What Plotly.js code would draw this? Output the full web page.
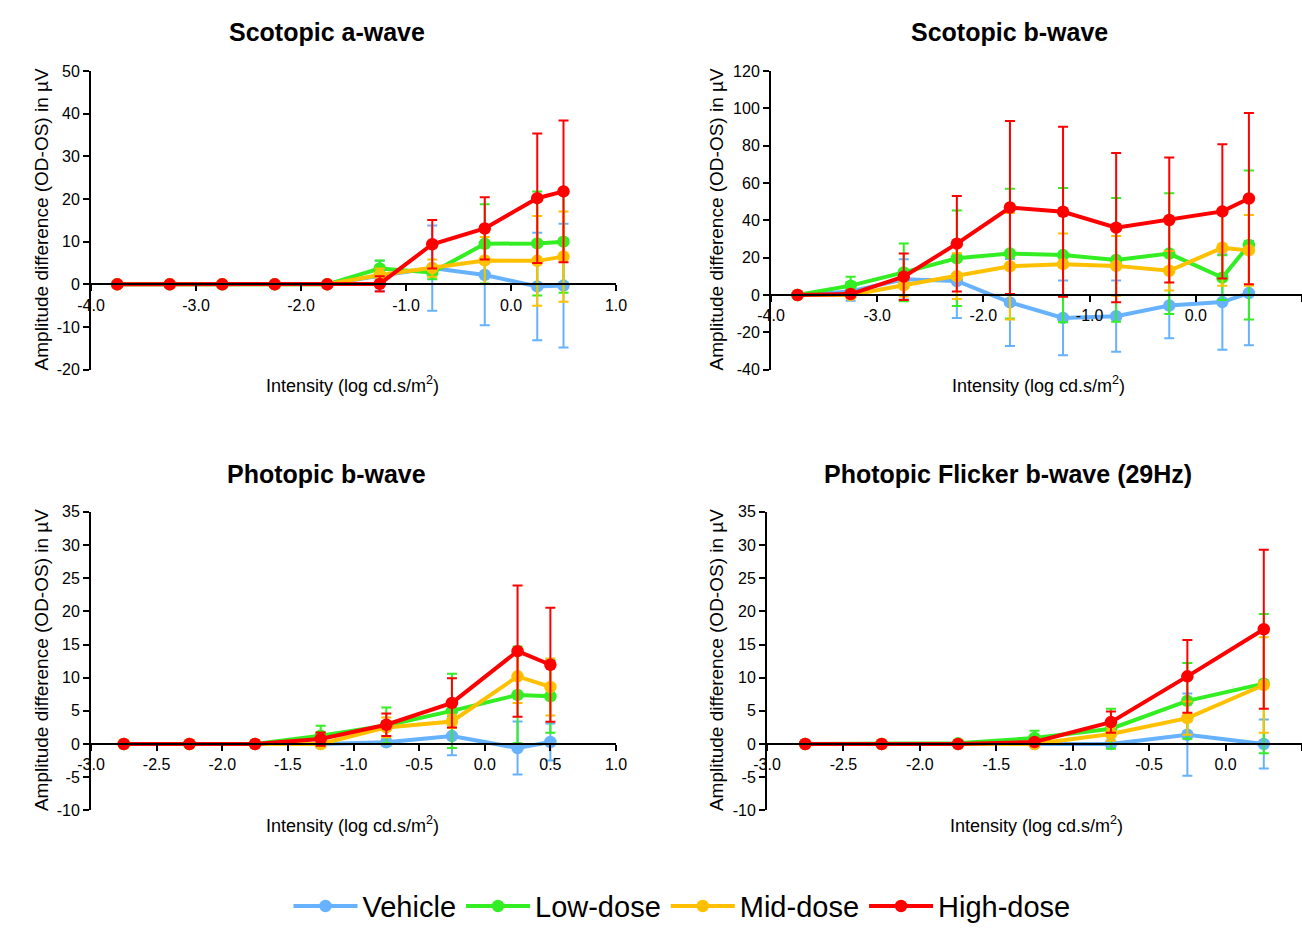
<!DOCTYPE html>
<html><head><meta charset="utf-8">
<script src="https://cdn.plot.ly/plotly-3.0.1.min.js"></script>
<style>html,body{margin:0;padding:0;overflow:hidden;background:#fff;width:1302px;height:932px}#chart{position:fixed;left:0;top:0;width:1302px;height:932px}</style>
</head><body><div id="chart"></div><script>
// ---------------- data ----------------
var seriesNames = ['Vehicle', 'Low-dose', 'Mid-dose', 'High-dose'];
var seriesColors = ['#66B2FF', '#33EE22', '#FFC000', '#FF0000'];

var panelTitles = ['Scotopic a-wave', 'Scotopic b-wave', 'Photopic b-wave', 'Photopic Flicker b-wave (29Hz)'];
var xTitle = 'Intensity (log cd.s/m<sup>2</sup>)';
var yTitle = 'Amplitude difference (OD-OS) in µV';

// Scotopic intensities
var xScot = [-3.75, -3.25, -2.75, -2.25, -1.75, -1.25, -0.75, -0.25, 0.25, 0.5];
// Scotopic a-wave
var aVehicle = [0, 0, 0, 0, 0, 2.0, 3.8, 2.2, -0.5, -0.3];
var aVehicleErr = [0, 0, 0, 0, 0, 3.5, 10, 11.8, 12.6, 14.5];
var aLow = [0, 0, 0, 0, 0, 3.7, 2.8, 9.5, 9.6, 10.0];
var aLowErr = [0, 0, 0, 0, 0, 1.9, 1.6, 9.3, 12.2, 12];
var aMid = [0, 0, 0, 0, 0, 2.2, 3.8, 5.6, 5.5, 6.5];
var aMidErr = [0, 0, 0, 0, 0, 1.5, 2, 5.5, 10.5, 10.6];
var aHigh = [0, 0, 0, 0, 0, 0.1, 9.4, 13.1, 20.2, 21.8];
var aHighErr = [0, 0, 0, 0, 0, 1.8, 5.7, 7.3, 15.2, 16.6];
// Scotopic b-wave
var bVehicle = [0, 1.9, 8.4, 7.5, -4.0, -12.3, -11.4, -5.7, -3.8, 1.0];
var bVehicleErr = [0, 5, 10.8, 19.8, 23.3, 20, 19.1, 17.5, 25.6, 27.9];
var bLow = [0, 5.0, 12.1, 19.7, 22.2, 21.4, 18.8, 22.2, 9.3, 26.8];
var bLowErr = [0, 4.8, 15.5, 25.6, 34.8, 36, 33.2, 32.4, 12, 40];
var bMid = [0, 0, 5.2, 10.1, 15.4, 16.5, 15.6, 13.0, 25.3, 23.9];
var bMidErr = [0, 1, 6, 12.3, 28.5, 16.5, 16, 10.6, 20.4, 19];
var bHigh = [0, 0.5, 9.8, 27.5, 46.9, 44.6, 36.1, 40.2, 44.8, 51.7];
var bHighErr = [0, 1, 12.5, 25.6, 46.4, 45.6, 40, 33.5, 36, 45.9];

// Photopic intensities
var xPhot = [-2.75, -2.25, -1.75, -1.25, -0.75, -0.25, 0.25, 0.5];
var pVehicle = [0, 0, 0, 0, 0.25, 1.2, -0.6, 0.3];
var pVehicleErr = [0, 0, 0, 0, 0.5, 2.9, 4.0, 2.8];
var pLow = [0, 0, 0, 1.25, 2.8, 5.0, 7.4, 7.2];
var pLowErr = [0, 0, 0, 1.5, 2.7, 5.6, 7.3, 5.5];
var pMid = [0, 0, 0, 0, 2.5, 3.4, 10.2, 8.6];
var pMidErr = [0, 0, 0, 0.5, 1.5, 1, 4, 4.3];
var pHigh = [0, 0, 0, 0.75, 2.9, 6.2, 14.0, 11.95];
var pHighErr = [0, 0, 0, 1, 1.7, 3.7, 9.9, 8.6];

// Photopic flicker intensities
var xFlick = [-2.75, -2.25, -1.75, -1.25, -0.75, -0.25, 0.25];
var fVehicle = [0, 0, 0, 0, 0, 1.4, 0];
var fVehicleErr = [0, 0, 0, 0, 0.3, 6.2, 3.7];
var fLow = [0, 0, 0.1, 0.9, 2.3, 6.5, 9.1];
var fLowErr = [0, 0, 0, 1.1, 3, 5.7, 10.5];
var fMid = [0, 0, 0, 0, 1.5, 3.9, 8.9];
var fMidErr = [0, 0, 0, 0.3, 1, 2.5, 7.2];
var fHigh = [0, 0, 0, 0.3, 3.3, 10.2, 17.3];
var fHighErr = [0, 0, 0, 0.3, 1.6, 5.5, 12];

// Tick labels
var scotXTicks = [-4, -3, -2, -1, 0, 1];
var scotXLabels = ['-4.0', '-3.0', '-2.0', '-1.0', '0.0', '1.0'];
var photXTicks = [-3, -2.5, -2, -1.5, -1, -0.5, 0, 0.5, 1];
var photXLabels = ['-3.0', '-2.5', '-2.0', '-1.5', '-1.0', '-0.5', '0.0', '0.5', '1.0'];
var flickXTicks = [-3, -2.5, -2, -1.5, -1, -0.5, 0, 0.5];
var flickXLabels = ['-3.0', '-2.5', '-2.0', '-1.5', '-1.0', '-0.5', '0.0', '0.5'];
var aYTicks = [-20, -10, 0, 10, 20, 30, 40, 50];
var aYLabels = ['-20', '-10', '0', '10', '20', '30', '40', '50'];
var bYTicks = [-40, -20, 0, 20, 40, 60, 80, 100, 120];
var bYLabels = ['-40', '-20', '0', '20', '40', '60', '80', '100', '120'];
var pYTicks = [-10, -5, 0, 5, 10, 15, 20, 25, 30, 35];
var pYLabels = ['-10', '-5', '0', '5', '10', '15', '20', '25', '30', '35'];

// ---------------- layout helpers ----------------
var W = 1302, H = 932;
var FONT = 'Arial, "Liberation Sans", sans-serif';
function fx(px) { return Math.min(1, px / W); }
function fy(px) { return Math.max(0, 1 - px / H); }

var panels = [
  { x: xScot, ys: [aVehicle, aLow, aMid, aHigh], es: [aVehicleErr, aLowErr, aMidErr, aHighErr],
    xr: [-4, 1], yr: [-20, 50], xt: scotXTicks, xl: scotXLabels, yt: aYTicks, yl: aYLabels,
    px: [91, 616], py: [72, 374], title: [327, 32], xtit: [353, 389], ytit: [41, 222] },
  { x: xScot, ys: [bVehicle, bLow, bMid, bHigh], es: [bVehicleErr, bLowErr, bMidErr, bHighErr],
    xr: [-4, 1], yr: [-40, 120], xt: scotXTicks, xl: scotXLabels, yt: bYTicks, yl: bYLabels,
    px: [771, 1302], py: [72, 374], title: [1009, 32], xtit: [1038, 389], ytit: [716, 222] },
  { x: xPhot, ys: [pVehicle, pLow, pMid, pHigh], es: [pVehicleErr, pLowErr, pMidErr, pHighErr],
    xr: [-3, 1], yr: [-10, 35], xt: photXTicks, xl: photXLabels, yt: pYTicks, yl: pYLabels,
    px: [91, 616], py: [518, 820], title: [326, 480], xtit: [353, 834], ytit: [41, 668] },
  { x: xFlick, ys: [fVehicle, fLow, fMid, fHigh], es: [fVehicleErr, fLowErr, fMidErr, fHighErr],
    xr: [-3, 0.5], yr: [-10, 35], xt: flickXTicks, xl: flickXLabels, yt: pYTicks, yl: pYLabels,
    px: [767, 1302], py: [518, 820], title: [1008, 480], xtit: [1036, 834], ytit: [716, 668] }
];

var data = [];
var layout = {
  width: W, height: H,
  margin: { l: 0, r: 0, t: 0, b: 0 },
  paper_bgcolor: '#fff', plot_bgcolor: '#fff',
  font: { family: FONT, color: '#000' },
  showlegend: true,
  legend: {
    orientation: 'h', x: fx(682), xanchor: 'center', y: fy(917), yanchor: 'middle',
    font: { size: 29, family: FONT, color: '#000' }, itemwidth: 64,
    bgcolor: 'rgba(0,0,0,0)', traceorder: 'normal'
  },
  annotations: []
};

panels.forEach(function (p, k) {
  var xs = k === 0 ? '' : String(k + 1);
  var xa = 'x' + xs, ya = 'y' + xs;
  p.ys.forEach(function (yv, i) {
    data.push({
      type: 'scatter', mode: 'lines+markers', x: p.x, y: yv,
      xaxis: xa, yaxis: ya, name: seriesNames[i], legendgroup: seriesNames[i],
      showlegend: k === 0,
      line: { color: seriesColors[i], width: 4 },
      marker: { color: seriesColors[i], size: 12.5 },
      error_y: { type: 'data', array: p.es[i], visible: true, color: seriesColors[i], thickness: 2, width: 5 }
    });
  });
  var yDom = [fy(p.py[1]), fy(p.py[0])];
  var zeroFrac = (0 - p.yr[0]) / (p.yr[1] - p.yr[0]);
  layout['xaxis' + xs] = {
    domain: [fx(p.px[0]), fx(p.px[1])], range: p.xr,
    anchor: 'free', position: yDom[0] + zeroFrac * (yDom[1] - yDom[0]),
    tickmode: 'array', tickvals: p.xt, ticktext: p.xl,
    ticks: 'outside', ticklen: 6, tickwidth: 2, tickcolor: '#000',
    showline: true, linecolor: '#000', linewidth: 2,
    showgrid: false, zeroline: false,
    tickfont: { size: 16, family: FONT, color: '#000' }
  };
  layout['yaxis' + xs] = {
    domain: yDom, range: p.yr, anchor: xa,
    tickmode: 'array', tickvals: p.yt, ticktext: p.yl,
    ticks: 'outside', ticklen: 6, tickwidth: 2, tickcolor: '#000',
    showline: true, linecolor: '#000', linewidth: 2,
    showgrid: false, zeroline: false,
    tickfont: { size: 16, family: FONT, color: '#000' }
  };
  layout.annotations.push({
    xref: 'paper', yref: 'paper', x: fx(p.title[0]), y: fy(p.title[1]),
    xanchor: 'center', yanchor: 'middle', showarrow: false,
    text: '<b>' + panelTitles[k] + '</b>', font: { size: 25, family: FONT, color: '#000' }
  });
  layout.annotations.push({
    xref: 'paper', yref: 'paper', x: fx(p.xtit[0]), y: fy(p.xtit[1]),
    xanchor: 'center', yanchor: 'middle', showarrow: false,
    text: xTitle, font: { size: 18, family: FONT, color: '#000' }
  });
  layout.annotations.push({
    xref: 'paper', yref: 'paper', x: fx(p.ytit[0]), y: fy(p.ytit[1]),
    xanchor: 'center', yanchor: 'middle', showarrow: false, textangle: -90,
    text: yTitle, font: { size: 19, family: FONT, color: '#000' }
  });
});

Plotly.newPlot('chart', data, layout, { staticPlot: true, displayModeBar: false });
</script></body></html>
